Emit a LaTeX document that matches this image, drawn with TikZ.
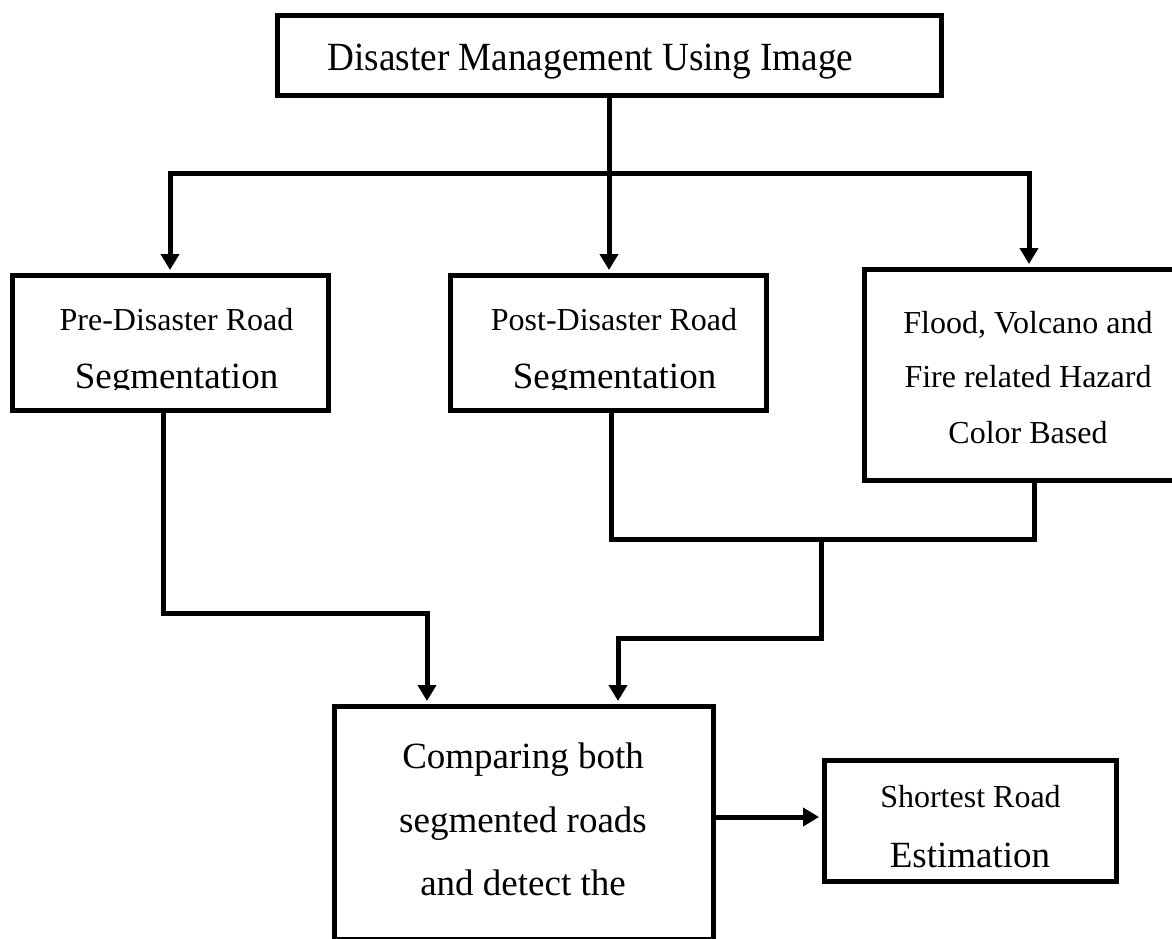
\documentclass[tikz,border=0pt]{standalone}
\usepackage{fontspec}
\setmainfont{Liberation Serif}
\newfontfamily\topfont[FakeStretch=0.93]{Liberation Serif}
\usetikzlibrary{arrows.meta,calc}
\begin{document}
\begin{tikzpicture}[x=1pt,y=-1pt,
  box/.style={draw=black, line width=5pt, inner sep=0pt, fill=none},
  txt/.style={anchor=base, inner sep=0pt},
  conn/.style={line width=5pt, line join=miter},
  arr/.style={conn, -{Triangle[length=16pt,width=18pt]}, shorten >=2.5pt},
  small/.style={font=\fontsize{32}{38}\selectfont},
  large/.style={font=\fontsize{37}{44}\selectfont}]
\fill[white] (0,0) rectangle (1172,938);
\useasboundingbox (0,0) rectangle (1172,938);

% boxes
\node[box, minimum width=664pt, minimum height=80.5pt] (top) at (609,55.5) {};
\node[box, minimum width=316pt, minimum height=135pt] (pre) at (170,342.5) {};
\node[box, minimum width=316pt, minimum height=135pt] (post) at (608,342.5) {};
\node[box, minimum width=330pt, minimum height=211pt] (flood) at (1029,374.5) {};
\node[box, minimum width=379pt, minimum height=233.5pt] (cmp) at (523.5,822.75) {};
\node[box, minimum width=292pt, minimum height=121pt] (short) at (970,820.5) {};

% texts
\node[txt, font=\topfont\fontsize{40}{48}\selectfont] (toptxt) at (590.5,70) {Disaster Management Using Image};
\node[txt, small] (pre1) at (176.5,330) {Pre-Disaster Road};
\node[txt, small] (post1) at (614,330) {Post-Disaster Road};
\begin{scope}
  \clip (0,0) rectangle (1172,389);
  \node[txt, large] (pre2) at (176.5,388) {Segmentation};
  \node[txt, large] (post2) at (614.5,388) {Segmentation};
\end{scope}
\node[txt, small] (fl1) at (1028,333) {Flood, Volcano and};
\node[txt, small] (fl2) at (1028,387) {Fire related Hazard};
\node[txt, small] (fl3) at (1028,443) {Color Based};
\node[txt, large] (cm1) at (523,768) {Comparing both};
\node[txt, large] (cm2) at (523,832) {segmented roads};
\node[txt, large] (cm3) at (523,895) {and detect the};
\node[txt, small] (sh1) at (970.5,807) {Shortest Road};
\node[txt, large] (sh2) at (970,867) {Estimation};

% connectors
\coordinate (split) at (609,173);
\draw[arr] (top.south) -- (top.south |- post.north);
\draw[arr] (split) -| (pre.north);
\draw[arr] (split) -| (flood.north);

\coordinate (pbend) at (427,613);
\draw[arr] ([xshift=-7pt]pre.south) |- (pbend) -- (pbend |- cmp.north);

\coordinate (merge) at (821,539);
\draw[conn] ([xshift=3pt]post.south) |- (merge) -| ([xshift=5pt]flood.south);
\coordinate (mbend) at (618,638);
\draw[arr] (merge) |- (mbend) -- (mbend |- cmp.north);

\coordinate (sa) at ([yshift=3.5pt]short.west);
\draw[arr] (sa -| cmp.east) -- (sa);
\end{tikzpicture}
\end{document}
